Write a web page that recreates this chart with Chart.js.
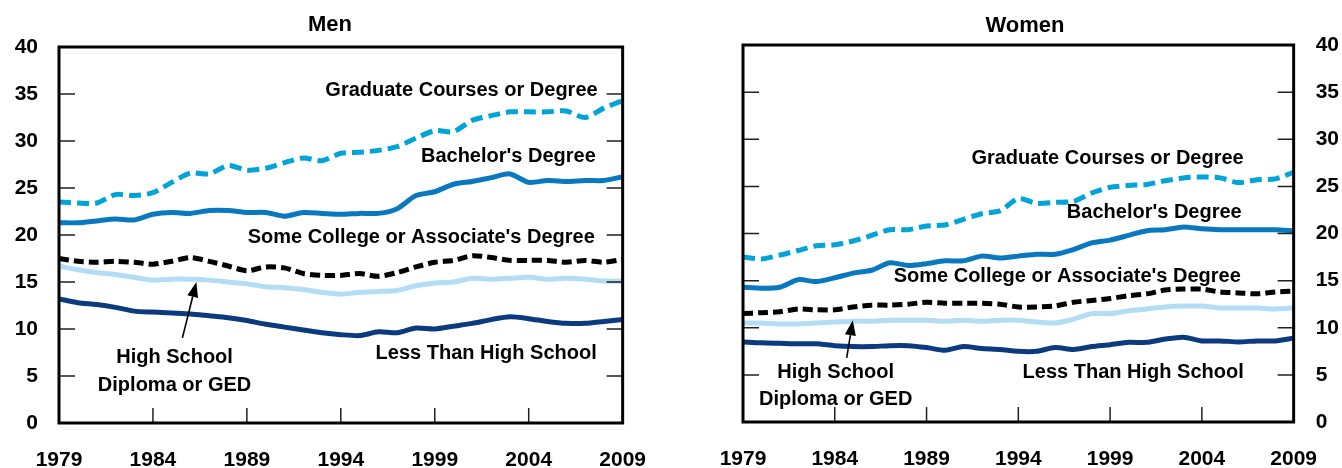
<!DOCTYPE html>
<html><head><meta charset="utf-8">
<script src="https://cdn.jsdelivr.net/npm/chart.js@4/dist/chart.umd.min.js"></script>
<style>
html,body{margin:0;padding:0;background:#fff;width:1342px;height:468px;overflow:hidden}
#men{position:absolute;left:0;top:0}
#women{position:absolute;left:671px;top:0}
</style></head><body>
<canvas id="men" width="671" height="468"></canvas>
<canvas id="women" width="671" height="468"></canvas>
<script>
const years = ['1979','1980','1981','1982','1983','1984','1985','1986','1987','1988','1989','1990','1991','1992','1993','1994','1995','1996','1997','1998','1999','2000','2001','2002','2003','2004','2005','2006','2007','2008','2009'];
const seriesNames = ['Graduate Courses or Degree',"Bachelor's Degree","Some College or Associate's Degree",'High School Diploma or GED','Less Than High School'];

const menGraduate = [23.5,23.4,23.4,24.3,24.2,24.5,25.6,26.6,26.5,27.4, 26.9,27.1,27.7,28.2,27.9,28.7,28.8,29.0,29.4,30.3, 31.1,31.0,32.2,32.7,33.1,33.1,33.1,33.2,32.5,33.5, 34.3];
const menBachelor = [21.3,21.3,21.5,21.7,21.6,22.2,22.4,22.3,22.6,22.6, 22.4,22.4,22.0,22.4,22.3,22.2,22.3,22.3,22.8,24.2, 24.6,25.4,25.7,26.1,26.5,25.6,25.8,25.7,25.8,25.8, 26.2];
const menSomeCollege = [17.5,17.2,17.1,17.2,17.1,16.9,17.2,17.6,17.2,16.7, 16.2,16.6,16.5,15.9,15.7,15.7,15.9,15.6,16.0,16.6, 17.1,17.3,17.8,17.6,17.3,17.3,17.3,17.1,17.3,17.1, 17.4];
const menHighSchool = [16.7,16.3,16.0,15.8,15.5,15.2,15.3,15.3,15.2,15.0, 14.8,14.5,14.4,14.2,13.9,13.7,13.9,14.0,14.1,14.6, 14.9,15.0,15.4,15.3,15.4,15.5,15.3,15.4,15.3,15.1, 15.1];
const menLessThanHS = [13.2,12.8,12.6,12.3,11.9,11.8,11.7,11.6,11.4,11.2, 10.9,10.5,10.2,9.9,9.6,9.4,9.3,9.7,9.6,10.1, 10.0,10.3,10.6,11.0,11.3,11.1,10.8,10.6,10.6,10.8, 11.0];

const womenGraduate = [17.5,17.3,17.7,18.2,18.7,18.8,19.2,19.8,20.4,20.4, 20.8,20.9,21.5,22.1,22.4,23.7,23.2,23.3,23.4,24.3, 24.9,25.1,25.2,25.6,25.9,26.0,25.9,25.4,25.7,25.8, 26.5];
const womenBachelor = [14.3,14.2,14.3,15.1,14.9,15.3,15.8,16.1,16.9,16.6, 16.8,17.1,17.1,17.6,17.4,17.6,17.8,17.8,18.3,19.0, 19.3,19.8,20.3,20.4,20.7,20.5,20.4,20.4,20.4,20.4, 20.3];
const womenSomeCollege = [11.5,11.6,11.7,12.0,11.9,11.9,12.2,12.4,12.4,12.5, 12.7,12.6,12.6,12.6,12.5,12.2,12.2,12.3,12.7,12.9, 13.1,13.4,13.6,14.0,14.1,14.1,13.8,13.7,13.6,13.8, 13.9];
const womenHighSchool = [10.5,10.5,10.4,10.4,10.5,10.6,10.7,10.7,10.8,10.8, 10.8,10.7,10.8,10.7,10.8,10.8,10.6,10.5,10.9,11.5, 11.5,11.8,12.0,12.2,12.3,12.3,12.1,12.1,12.1,12.0, 12.1];
const womenLessThanHS = [8.5,8.4,8.35,8.3,8.3,8.1,8.0,8.0,8.1,8.1, 7.9,7.6,8.0,7.8,7.7,7.5,7.5,7.9,7.7,8.0, 8.2,8.45,8.45,8.8,9.0,8.6,8.6,8.5,8.6,8.6, 8.9];

const yMin = 0, yMax = 40, yStep = 5;
const tickEvery = 5;

const FONT = "'Liberation Sans', Arial, sans-serif";
Chart.defaults.font.family = FONT;

const styles = [
  {color:'#00a4d8', dash:[12,6]},
  {color:'#0a78bf', dash:[]},
  {color:'#000000', dash:[10,5]},
  {color:'#b3ddf4', dash:[]},
  {color:'#0b3a7e', dash:[]}
];

function datasets(arrs, yAxisID){
  return arrs.map((d,i)=>({
    label: seriesNames[i], data: d, yAxisID,
    borderColor: styles[i].color, borderDash: styles[i].dash,
    borderWidth: 5, pointRadius: 0, tension: 0.25,
    borderCapStyle: 'butt', borderJoinStyle: 'round', fill: false
  }));
}

function decorPlugin(o){
  return {
    id: 'decor',
    afterDatasetsDraw(chart){
      const ctx = chart.ctx, a = chart.chartArea;
      const xs = chart.scales.x, ys = chart.scales[o.yId];
      ctx.save();
      // inward tick marks
      ctx.strokeStyle = '#231f20'; ctx.lineWidth = 1.5;
      for (let v = yMin + yStep; v < yMax; v += yStep){
        const py = ys.getPixelForValue(v);
        ctx.beginPath();
        ctx.moveTo(a.left, py); ctx.lineTo(a.left + 16, py);
        ctx.moveTo(a.right, py); ctx.lineTo(a.right - 16, py);
        ctx.stroke();
      }
      for (let i = tickEvery; i < years.length - 1; i += tickEvery){
        const px = xs.getPixelForValue(i);
        ctx.beginPath(); ctx.moveTo(px, a.bottom); ctx.lineTo(px, a.bottom - 15); ctx.stroke();
      }
      // frame
      ctx.lineWidth = 3; ctx.strokeStyle = '#000';
      ctx.strokeRect(a.left, a.top, a.right - a.left, a.bottom - a.top);
      // title
      ctx.fillStyle = '#000';
      ctx.font = 'bold 22px ' + FONT;
      ctx.textAlign = 'center'; ctx.textBaseline = 'middle';
      ctx.fillText(o.title, o.titleX, o.titleY);
      // series labels
      ctx.font = 'bold 20px ' + FONT;
      const X = yr => xs.getPixelForValue(yr - 1979);
      for (const L of o.labels){
        ctx.textAlign = L.align;
        ctx.fillText(L.text, X(L.year), ys.getPixelForValue(L.value));
      }
      // arrow
      const x1 = X(o.arrow[0]), y1 = ys.getPixelForValue(o.arrow[1]);
      const x2 = X(o.arrow[2]), y2 = ys.getPixelForValue(o.arrow[3]);
      const ang = Math.atan2(y2 - y1, x2 - x1);
      const hl = 15, hw = 5.5;
      const bx = x2 - hl*Math.cos(ang), by = y2 - hl*Math.sin(ang);
      ctx.lineWidth = 1.6; ctx.strokeStyle = '#000';
      ctx.beginPath(); ctx.moveTo(x1, y1); ctx.lineTo(bx, by); ctx.stroke();
      ctx.beginPath();
      ctx.moveTo(x2, y2);
      ctx.lineTo(bx + hw*Math.sin(ang), by - hw*Math.cos(ang));
      ctx.lineTo(bx - hw*Math.sin(ang), by + hw*Math.cos(ang));
      ctx.closePath(); ctx.fill();
      ctx.restore();
    }
  };
}

const tickFont = {size: 21, weight: 'bold', family: FONT};
const hiddenGrid = {display:false, drawTicks:false};

function xScale(h){
  return {
    type: 'category', offset: false,
    grid: hiddenGrid, border: {display:false},
    ticks: {autoSkip:false, maxRotation:0, font: tickFont, color:'#000', padding: 25},
    afterBuildTicks(s){ s.ticks = s.ticks.filter(t => t.value % tickEvery === 0); },
    afterFit(s){ s.height = h; }
  };
}
function yScale(pos, showLabels, width, pad){
  return {
    type: 'linear', position: pos, min: yMin, max: yMax,
    grid: hiddenGrid, border: {display:false},
    ticks: {stepSize: yStep, display: showLabels, font: tickFont, color:'#000', padding: pad},
    afterFit(s){ s.width = width; }
  };
}

new Chart(document.getElementById('men'), {
  type: 'line',
  data: {labels: years, datasets: datasets([menGraduate, menBachelor, menSomeCollege, menHighSchool, menLessThanHS], 'y')},
  options: {
    responsive:false, animation:false, devicePixelRatio:1,
    layout: {padding: {top:47, right:46, left:0, bottom:0}},
    plugins: {legend:{display:false}, tooltip:{enabled:false}},
    scales: {x: xScale(45), y: yScale('left', true, 59, 21)}
  },
  plugins: [decorPlugin({
    yId:'y', title:'Men', titleX:330, titleY:25,
    labels: [
      {text:'Graduate Courses or Degree', year:2007.67, value:35.4, align:'right'},
      {text:"Bachelor's Degree", year:2007.57, value:28.4, align:'right'},
      {text:"Some College or Associate's Degree", year:2007.52, value:19.7, align:'right'},
      {text:'Less Than High School', year:2007.62, value:7.35, align:'right'},
      {text:'High School', year:1985.15, value:7.0, align:'center'},
      {text:'Diploma or GED', year:1985.15, value:3.95, align:'center'}
    ],
    arrow: [1985.57, 9.05, 1986.31, 15.0]
  })]
});

new Chart(document.getElementById('women'), {
  type: 'line',
  data: {labels: years, datasets: datasets([womenGraduate, womenBachelor, womenSomeCollege, womenHighSchool, womenLessThanHS], 'y')},
  options: {
    responsive:false, animation:false, devicePixelRatio:1,
    layout: {padding: {top:45, right:0, left:0, bottom:0}},
    plugins: {legend:{display:false}, tooltip:{enabled:false}},
    scales: {x: xScale(46), y: yScale('left', false, 72, 0), y2: yScale('right', true, 47, 22)}
  },
  plugins: [decorPlugin({
    yId:'y', title:'Women', titleX:354, titleY:26,
    labels: [
      {text:'Graduate Courses or Degree', year:2006.28, value:28.0, align:'right'},
      {text:"Bachelor's Degree", year:2006.17, value:22.2, align:'right'},
      {text:"Some College or Associate's Degree", year:2006.12, value:15.4, align:'right'},
      {text:'Less Than High School', year:2006.28, value:5.3, align:'right'},
      {text:'High School', year:1984.05, value:5.3, align:'center'},
      {text:'Diploma or GED', year:1984.05, value:2.35, align:'center'}
    ],
    arrow: [1984.65, 6.8, 1984.98, 10.8]
  })]
});
</script>
</body></html>
